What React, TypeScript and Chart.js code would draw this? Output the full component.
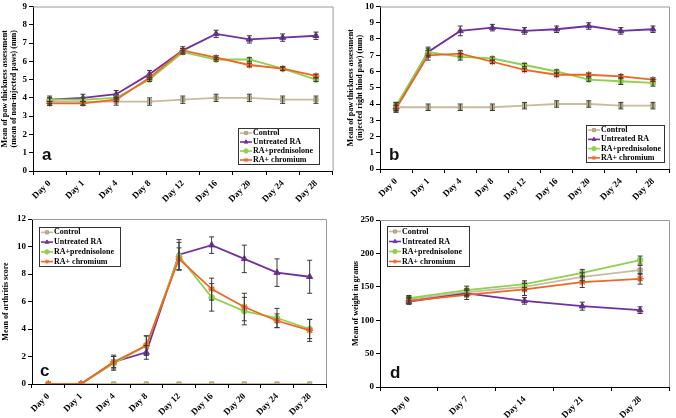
import React, { useEffect, useRef } from "react";
import { Chart, registerables } from "chart.js";
import { drawPoint } from "chart.js/helpers";

Chart.register(...registerables);

const SERIES_NAMES = ["Control", "Untreated RA", "RA+prednisolone", "RA+ chromium"];
const SERIES_COLORS = ["#C8BD9A", "#7030A0", "#8FD14F", "#F26522"];
const MARKER_FILLS = ["#BFB38D", "#7030A0", "#8FD14F", "#F26522"];
const MARKERS = ["rect", "triangle", "circle", "star"];
const MARKER_SIZES = [3, 3.5, 2.8, 3.5];

const DAYS_SCORE = ["Day 0", "Day 1", "Day 4", "Day 8", "Day 12", "Day 16", "Day 20", "Day 24", "Day 28"];
const DAYS_WEIGHT = ["Day 0", "Day 7", "Day 14", "Day 21", "Day 28"];

// Panel a: non-injected paws
const A_CONTROL = [3.8, 3.8, 3.8, 3.8, 3.9, 4.0, 4.0, 3.9, 3.9];
const A_UNTREATED = [3.9, 4.0, 4.2, 5.3, 6.6, 7.5, 7.2, 7.3, 7.4];
const A_PRED = [3.9, 3.9, 4.0, 5.0, 6.5, 6.1, 6.1, 5.6, 5.0];
const A_CHROM = [3.7, 3.7, 3.9, 5.1, 6.6, 6.2, 5.8, 5.6, 5.2];
const A_CONTROL_ERR = [0.2, 0.2, 0.2, 0.2, 0.2, 0.2, 0.2, 0.2, 0.2];
const A_UNTREATED_ERR = [0.2, 0.2, 0.2, 0.2, 0.2, 0.2, 0.2, 0.2, 0.2];
const A_PRED_ERR = [0.1, 0.1, 0.1, 0.1, 0.1, 0.1, 0.1, 0.1, 0.1];
const A_CHROM_ERR = [0.1, 0.1, 0.1, 0.1, 0.1, 0.1, 0.1, 0.1, 0.1];

// Panel b: injected right hind paw
const B_CONTROL = [3.8, 3.8, 3.8, 3.8, 3.9, 4.0, 4.0, 3.9, 3.9];
const B_UNTREATED = [3.8, 7.2, 8.5, 8.7, 8.5, 8.6, 8.8, 8.5, 8.6];
const B_PRED = [3.9, 7.2, 6.9, 6.8, 6.4, 6.0, 5.5, 5.4, 5.3];
const B_CHROM = [3.7, 7.0, 7.1, 6.6, 6.1, 5.8, 5.8, 5.7, 5.5];
const B_CONTROL_ERR = [0.2, 0.2, 0.2, 0.2, 0.2, 0.2, 0.2, 0.2, 0.2];
const B_UNTREATED_ERR = [0.3, 0.3, 0.3, 0.2, 0.2, 0.2, 0.2, 0.2, 0.2];
const B_PRED_ERR = [0.2, 0.2, 0.2, 0.1, 0.1, 0.1, 0.1, 0.2, 0.2];
const B_CHROM_ERR = [0.2, 0.3, 0.2, 0.1, 0.1, 0.1, 0.1, 0.1, 0.1];

// Panel c: arthritis score
const C_CONTROL = [0, 0, 0, 0, 0, 0, 0, 0, 0];
const C_UNTREATED = [0, 0, 1.6, 2.3, 9.4, 10.1, 9.1, 8.1, 7.8];
const C_PRED = [0, 0, 1.5, 2.8, 9.3, 6.3, 5.3, 4.8, 4.0];
const C_CHROM = [0, 0, 1.6, 2.8, 9.1, 6.9, 5.6, 4.6, 3.9];
const C_CONTROL_ERR = [0, 0, 0, 0, 0, 0, 0, 0, 0];
const C_UNTREATED_ERR = [0, 0, 0.5, 0.5, 1.1, 0.6, 1.0, 1.0, 1.2];
const C_PRED_ERR = [0, 0, 0.5, 0.7, 1.0, 1.0, 1.0, 0.7, 0.7];
const C_CHROM_ERR = [0, 0, 0.4, 0.7, 0.8, 0.8, 1.0, 0.5, 0.8];

// Panel d: weight in grams
const D_CONTROL = [131, 142, 150, 165, 175];
const D_UNTREATED = [128, 140, 129, 121, 115];
const D_PRED = [133, 145, 154, 171, 190];
const D_CHROM = [129, 138, 146, 157, 162];
const D_CONTROL_ERR = [5, 5, 5, 6, 7];
const D_UNTREATED_ERR = [4, 5, 5, 6, 5];
const D_PRED_ERR = [4, 6, 5, 5, 6];
const D_CHROM_ERR = [5, 7, 9, 8, 8];

const SERIF = "'Liberation Serif', 'DejaVu Serif', serif";
const SANS = "'Liberation Sans', Arial, sans-serif";

const errorBarsPlugin = {
  id: "errorBars",
  afterDatasetsDraw(chart: any) {
    const ctx = chart.ctx;
    const yScale = chart.scales.y;
    chart.data.datasets.forEach((ds: any, i: number) => {
      const errs = ds.errors;
      if (!errs) return;
      const meta = chart.getDatasetMeta(i);
      meta.data.forEach((pt: any, j: number) => {
        const e = errs[j];
        if (!e) return;
        const v = ds.data[j];
        const y1 = yScale.getPixelForValue(v - e);
        const y2 = yScale.getPixelForValue(v + e);
        const x = pt.x;
        ctx.save();
        ctx.strokeStyle = "#3a3a3a";
        ctx.lineWidth = 1;
        ctx.beginPath();
        ctx.moveTo(x, y1);
        ctx.lineTo(x, y2);
        ctx.moveTo(x - 2.5, y1);
        ctx.lineTo(x + 2.5, y1);
        ctx.moveTo(x - 2.5, y2);
        ctx.lineTo(x + 2.5, y2);
        ctx.stroke();
        ctx.restore();
      });
    });
  },
};

const framePlugin = {
  id: "frame",
  beforeDatasetsDraw(chart: any) {
    const { ctx, chartArea } = chart;
    ctx.save();
    ctx.strokeStyle = "#9a9a9a";
    ctx.lineWidth = 1;
    ctx.beginPath();
    ctx.moveTo(chartArea.left, chartArea.top + 0.5);
    ctx.lineTo(chartArea.right + 0.5, chartArea.top + 0.5);
    ctx.lineTo(chartArea.right + 0.5, chartArea.bottom);
    ctx.stroke();
    ctx.restore();
  },
};

const boxLegendPlugin = {
  id: "boxLegend",
  afterDraw(chart: any, _args: any, opts: any) {
    const ctx = chart.ctx;
    const { x, y, w, h, letter, lx, ly } = opts;
    ctx.save();
    ctx.fillStyle = "#ffffff";
    ctx.fillRect(x, y, w, h);
    ctx.strokeStyle = "#333333";
    ctx.lineWidth = 1;
    ctx.strokeRect(x + 0.5, y + 0.5, w, h);
    const rowH = h / 4;
    chart.data.datasets.forEach((ds: any, i: number) => {
      const cy = y + (i + 0.5) * rowH + 0.5;
      ctx.strokeStyle = ds.borderColor;
      ctx.lineWidth = 1.6;
      ctx.beginPath();
      ctx.moveTo(x + 2, cy);
      ctx.lineTo(x + 14, cy);
      ctx.stroke();
      ctx.fillStyle = ds.pointBackgroundColor;
      ctx.strokeStyle = ds.pointBorderColor;
      ctx.lineWidth = 1;
      drawPoint(ctx, { pointStyle: ds.pointStyle, radius: 2.2, rotation: 0, borderWidth: 1 }, x + 8, cy);
      ctx.fillStyle = "#000";
      ctx.font = `bold 8px ${SERIF}`;
      ctx.textBaseline = "middle";
      ctx.textAlign = "left";
      ctx.fillText(ds.label, x + 15, cy);
    });
    ctx.fillStyle = "#111";
    ctx.font = `bold 17px ${SANS}`;
    ctx.textBaseline = "alphabetic";
    ctx.textAlign = "left";
    ctx.fillText(letter, lx, ly);
    ctx.restore();
  },
};

function makeDatasets(values: number[][], errors: number[][]) {
  return values.map((vals, i) => ({
    label: SERIES_NAMES[i],
    data: vals,
    errors: errors[i],
    borderColor: SERIES_COLORS[i],
    backgroundColor: SERIES_COLORS[i],
    pointBackgroundColor: MARKER_FILLS[i],
    pointBorderColor: i === 0 ? "#ADA17C" : SERIES_COLORS[i],
    pointStyle: MARKERS[i],
    pointRadius: MARKER_SIZES[i],
    pointBorderWidth: i === 3 ? 1.4 : 1,
    borderWidth: 1.8,
    tension: 0,
    order: 4 - i,
  }));
}

type PanelCfg = {
  left: number;
  top: number;
  width: number;
  height: number;
  labels: string[];
  values: number[][];
  errors: number[][];
  yMin: number;
  yMax: number;
  yStep: number;
  title: string | string[];
  titlePad: number;
  area: { left: number; top: number; right: number; bottom: number };
  legend: { x: number; y: number; w: number; h: number; letter: string; lx: number; ly: number };
};

const PANELS: PanelCfg[] = [
  {
    left: 0, top: 0, width: 338, height: 209,
    labels: DAYS_SCORE,
    values: [A_CONTROL, A_UNTREATED, A_PRED, A_CHROM],
    errors: [A_CONTROL_ERR, A_UNTREATED_ERR, A_PRED_ERR, A_CHROM_ERR],
    yMin: 0, yMax: 9, yStep: 1,
    title: ["Mean of paw thickness assessment", "(mean of non-injected paws) (mm)"],
    titlePad: 0,
    area: { left: 33, top: 5, right: 333, bottom: 171 },
    legend: { x: 238, y: 128, w: 81, h: 36, letter: "a", lx: 42, ly: 160 },
  },
  {
    left: 338, top: 0, width: 338, height: 209,
    labels: DAYS_SCORE,
    values: [B_CONTROL, B_UNTREATED, B_PRED, B_CHROM],
    errors: [B_CONTROL_ERR, B_UNTREATED_ERR, B_PRED_ERR, B_CHROM_ERR],
    yMin: 0, yMax: 10, yStep: 1,
    title: ["Mean of paw thickness assessment", "(injected right hind paw) (mm)"],
    titlePad: 8,
    area: { left: 42, top: 5, right: 331, bottom: 169 },
    legend: { x: 248, y: 125, w: 78, h: 37, letter: "b", lx: 51, ly: 160 },
  },
  {
    left: 0, top: 209, width: 338, height: 209,
    labels: DAYS_SCORE,
    values: [C_CONTROL, C_UNTREATED, C_PRED, C_CHROM],
    errors: [C_CONTROL_ERR, C_UNTREATED_ERR, C_PRED_ERR, C_CHROM_ERR],
    yMin: 0, yMax: 12, yStep: 2,
    title: "Mean of arthritis score",
    titlePad: 1.5,
    area: { left: 32, top: 10, right: 326, bottom: 175 },
    legend: { x: 39, y: 18, w: 81, h: 39, letter: "c", lx: 40, ly: 167 },
  },
  {
    left: 338, top: 209, width: 338, height: 209,
    labels: DAYS_WEIGHT,
    values: [D_CONTROL, D_UNTREATED, D_PRED, D_CHROM],
    errors: [D_CONTROL_ERR, D_UNTREATED_ERR, D_PRED_ERR, D_CHROM_ERR],
    yMin: 0, yMax: 250, yStep: 50,
    title: "Mean of weight in grams",
    titlePad: 13.5,
    area: { left: 42, top: 11, right: 331, bottom: 178 },
    legend: { x: 49, y: 17, w: 82, h: 40, letter: "d", lx: 52, ly: 169 },
  },
];

function Panel({ cfg }: { cfg: PanelCfg }) {
  const ref = useRef<HTMLCanvasElement | null>(null);
  useEffect(() => {
    if (!ref.current) return;
    const a = cfg.area;
    const chart = new Chart(ref.current, {
      type: "line",
      data: { labels: cfg.labels, datasets: makeDatasets(cfg.values, cfg.errors) as any },
      plugins: [framePlugin, errorBarsPlugin, boxLegendPlugin],
      options: {
        responsive: false,
        animation: false,
        devicePixelRatio: 1,
        layout: { padding: { top: a.top, right: cfg.width - a.right, left: 0, bottom: 0 } },
        plugins: {
          legend: { display: false },
          tooltip: { enabled: false },
          boxLegend: cfg.legend,
        } as any,
        scales: {
          x: {
            type: "category",
            offset: true,
            afterFit: (s: any) => { s.height = cfg.height - a.bottom; },
            border: { color: "#000", width: 1 },
            grid: { display: true, drawOnChartArea: false, drawTicks: true, tickLength: 4, color: "#000", offset: true },
            ticks: {
              color: "#000",
              font: { family: SERIF, size: 9, weight: "bold" },
              minRotation: 45,
              maxRotation: 45,
              padding: 3,
              autoSkip: false,
            },
          },
          y: {
            min: cfg.yMin,
            max: cfg.yMax,
            afterFit: (s: any) => { s.width = a.left; },
            border: { color: "#000", width: 1 },
            grid: { display: true, drawOnChartArea: false, drawTicks: true, tickLength: 4, color: "#000" },
            ticks: {
              stepSize: cfg.yStep,
              color: "#000",
              padding: 2,
              font: { family: SERIF, size: 9, weight: "bold", lineHeight: 1 },
            },
            title: {
              display: true,
              text: cfg.title,
              color: "#000",
              font: { family: SERIF, size: 8, weight: "bold", lineHeight: 1.15 },
              padding: { top: cfg.titlePad, bottom: 0 },
            },
          },
        },
      } as any,
    });
    return () => chart.destroy();
  }, [cfg]);
  return (
    <div style={{ position: "absolute", left: cfg.left, top: cfg.top, width: cfg.width, height: cfg.height }}>
      <canvas ref={ref} width={cfg.width} height={cfg.height} style={{ display: "block" }} />
    </div>
  );
}

export default function App() {
  return (
    <div style={{ position: "absolute", left: 0, top: 0, width: 676, height: 418, background: "#fff", overflow: "hidden" }}>
      {PANELS.map((p, i) => (
        <Panel key={i} cfg={p} />
      ))}
    </div>
  );
}
